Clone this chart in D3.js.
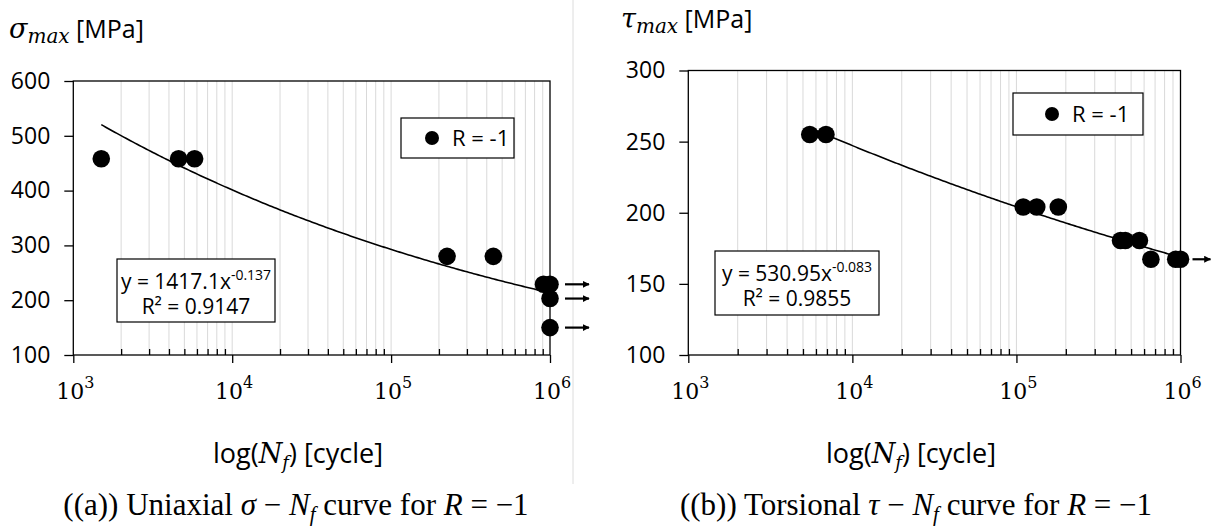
<!doctype html>
<html lang="en">
  <head>
    <meta charset="utf-8">
    <title>S-N curves</title>
    <style>
      body{margin:0;background:#fff;}
      svg{display:block;}
      .sans{font-family:"Open Sans", "Noto Sans", sans-serif;}
      .serif{font-family:"Liberation Serif", "DejaVu Serif", serif;}
    </style>
  </head>
  <body>
    <div class="holder"></div>
    <script src="https://cdn.jsdelivr.net/npm/d3@7"></script>
    <script>

      // ---- data ----
      var xTicks = [1e3, 1e4, 1e5, 1e6];
      var xTickExp = ["3", "4", "5", "6"];

      // (a) uniaxial
      var sigmaN    = [1500, 4600, 5800, 225000, 440000, 910000, 1000000, 1000000, 1000000];
      var sigmaMax  = [458, 458, 458, 280, 280, 229, 229, 203, 150];
      var sigmaRunout = [229, 203, 150];
      var sigmaTicks = [100, 200, 300, 400, 500, 600];
      var sigmaFit = [1417.1, -0.137];
      var sigmaR2 = "0.9147";

      // (b) torsional
      var tauN    = [5500, 6900, 110000, 133000, 180000, 431000, 461000, 562000, 660000, 935000, 1000000];
      var tauMax  = [255, 255, 204, 204, 204, 180.5, 180.5, 180.5, 167.3, 167.3, 167.3];
      var tauRunout = [167.3];
      var tauTicks = [100, 150, 200, 250, 300];
      var tauFit = [530.95, -0.083];
      var tauR2 = "0.9855";

      var svg = d3.select(".holder").append("svg")
          .attr("width", 1219).attr("height", 526);

      // arrow head
      svg.append("defs").append("marker")
          .attr("id", "head").attr("viewBox", "0 0 10 10")
          .attr("refX", 9).attr("refY", 5)
          .attr("markerWidth", 3.2).attr("markerHeight", 3.2)
          .attr("orient", "auto")
        .append("path").attr("d", "M0,0L10,5L0,10z").attr("fill", "#000");

      // divider between the two panels
      svg.append("line").attr("x1", 573).attr("x2", 573).attr("y1", 0).attr("y2", 484)
          .attr("stroke", "#dcdcdc").attr("stroke-width", 1);

      function panel(o) {
        var x = d3.scaleLog().domain([1e3, 1e6]).range([o.x0, o.x1]);
        var y = d3.scaleLinear().domain(o.yDomain).range([o.yBot, o.yTop]);
        var g = svg.append("g");

        // vertical gridlines (minor + inner decades)
        var grid = [];
        for (var d = 3; d < 6; d++) {
          for (var k = 1; k < 10; k++) {
            var v = k * Math.pow(10, d);
            if (v > 1e3) grid.push(v);
          }
        }
        g.selectAll(".grid").data(grid).enter().append("line")
            .attr("x1", x).attr("x2", x)
            .attr("y1", o.yTop).attr("y2", o.yBot)
            .attr("stroke", "#d9d9d9").attr("stroke-width", 1);

        // plot border
        g.append("rect").attr("x", o.x0).attr("y", o.yTop)
            .attr("width", o.x1 - o.x0).attr("height", o.yBot - o.yTop)
            .attr("fill", "none").attr("stroke", "#000").attr("stroke-width", 1.3);

        // minor ticks pointing up, majors pointing down
        var minors = grid.filter(function(v){ return xTicks.indexOf(v) < 0; });
        g.append("g").attr("transform", "translate(0," + o.yBot + ")")
            .call(d3.axisBottom(x).tickValues(minors).tickSize(-6).tickSizeOuter(0).tickFormat(""))
            .call(function(s){ s.select(".domain").remove(); s.selectAll("line").attr("stroke-width", 1.3); });
        g.append("g").attr("transform", "translate(0," + o.yBot + ")")
            .call(d3.axisBottom(x).tickValues(xTicks).tickSize(8).tickSizeOuter(0).tickFormat(""))
            .call(function(s){ s.select(".domain").remove(); s.selectAll("line").attr("stroke-width", 1.3); });

        // x tick labels 10^n
        var lab = g.selectAll(".xl").data(xTicks).enter().append("text")
            .attr("x", function(d){ return x(d) + 2; }).attr("y", 399)
            .attr("text-anchor", "middle")
            .style("font-family", "DejaVu Serif, serif").style("font-size", "22px");
        lab.append("tspan").text("10");
        lab.append("tspan").attr("dy", -11).style("font-size", "16px")
            .text(function(d, i){ return xTickExp[i]; });

        // y axis
        g.append("g").attr("transform", "translate(" + o.x0 + ",0)")
            .call(d3.axisLeft(y).tickValues(o.yTicks).tickSize(9).tickSizeOuter(0).tickPadding(14))
            .call(function(s){
              s.select(".domain").remove();
              s.selectAll("line").attr("stroke-width", 1.3);
              s.selectAll("text").attr("class", "sans").style("font-size", "23px").attr("fill", "#000");
            });

        // trendline from the fitted power law
        var fitN = d3.range(0, 201).map(function(i){
          var lo = Math.log10(d3.min(o.n)), hi = 6;
          return Math.pow(10, lo + (hi - lo) * i / 200);
        });
        g.append("path")
            .datum(fitN)
            .attr("fill", "none").attr("stroke", "#000").attr("stroke-width", 1.6)
            .attr("d", d3.line()
              .x(function(d){ return x(d); })
              .y(function(d){ return y(o.fit[0] * Math.pow(d, o.fit[1])); }));

        // data points
        g.selectAll(".pt").data(o.n).enter().append("circle")
            .attr("cx", function(d){ return x(d); })
            .attr("cy", function(d, i){ return y(o.v[i]); })
            .attr("r", 8.8).attr("fill", "#000");

        // run-out arrows
        g.selectAll(".ro").data(o.runout).enter().append("line")
            .attr("x1", x(1e6) + o.arrow[0]).attr("x2", x(1e6) + o.arrow[1])
            .attr("y1", y).attr("y2", y)
            .attr("stroke", "#000").attr("stroke-width", 2.2)
            .attr("marker-end", "url(#head)");

        // legend
        var L = o.legend;
        g.append("rect").attr("x", L[0]).attr("y", L[1]).attr("width", L[2]).attr("height", L[3])
            .attr("fill", "#fff").attr("stroke", "#000").attr("stroke-width", 1.2);
        g.append("circle").attr("cx", L[0] + L[4]).attr("cy", L[1] + L[3] / 2).attr("r", 7).attr("fill", "#000");
        g.append("text").attr("class", "sans").attr("x", L[0] + L[4] + 20).attr("y", L[1] + L[3] / 2 + 8)
            .style("font-size", "22px").text("R = -1");

        // equation box
        var E = o.eqBox;
        g.append("rect").attr("x", E[0]).attr("y", E[1]).attr("width", E[2]).attr("height", E[3])
            .attr("fill", "#fff").attr("stroke", "#000").attr("stroke-width", 1.2);
        var cx = E[0] + E[2] / 2;
        var t1 = g.append("text").attr("class", "sans").attr("x", cx).attr("y", E[1] + 30)
            .attr("text-anchor", "middle").style("font-size", "21px");
        t1.append("tspan").text("y = " + o.fit[0] + "x");
        t1.append("tspan").attr("dy", -9).style("font-size", "14px").text(String(o.fit[1]));
        var t2 = g.append("text").attr("class", "sans").attr("x", cx).attr("y", E[1] + 55)
            .attr("text-anchor", "middle").style("font-size", "21px");
        t2.append("tspan").text("R² = " + o.r2);

        // y title
        var yt = g.append("text").attr("x", o.title[0]).attr("y", o.title[1]);
        yt.append("tspan").style("font-family", "DejaVu Serif, serif").style("font-style", "italic")
            .style("font-size", "27px").text(o.sym);
        yt.append("tspan").attr("dy", 5).style("font-family", "DejaVu Serif, serif").style("font-style", "italic")
            .style("font-size", "20px").text("max");
        yt.append("tspan").attr("dy", -5).attr("class", "sans").style("font-size", "25px").text(" [MPa]");

        // x title
        var xt = g.append("text").attr("x", o.xt).attr("y", 463)
            .attr("text-anchor", "middle").attr("class", "sans").style("font-size", "27px");
        xt.append("tspan").text("log(");
        xt.append("tspan").style("font-family", "DejaVu Serif, serif").style("font-style", "italic").text("N");
        xt.append("tspan").attr("dy", 6).style("font-family", "DejaVu Serif, serif").style("font-style", "italic")
            .style("font-size", "18px").text("f");
        xt.append("tspan").attr("dy", -6).text(") [cycle]");

        // caption
        var cp = svg.append("text").attr("class", "serif").attr("x", o.cap[0]).attr("y", 515)
            .attr("text-anchor", "middle").style("font-size", "31px");
        cp.append("tspan").text(o.cap[1] + " ");
        cp.append("tspan").style("font-style", "italic").text(o.sym);
        cp.append("tspan").text(" − ");
        cp.append("tspan").style("font-style", "italic").text("N");
        cp.append("tspan").attr("dy", 6).style("font-style", "italic").style("font-size", "21px").text("f");
        cp.append("tspan").attr("dy", -6).text(" curve for ");
        cp.append("tspan").style("font-style", "italic").text("R");
        cp.append("tspan").text(" = −1");
      }

      panel({
        x0: 73.3, x1: 550, yTop: 81, yBot: 355, yDomain: [100, 600], yTicks: sigmaTicks,
        n: sigmaN, v: sigmaMax, runout: sigmaRunout, fit: sigmaFit, r2: sigmaR2,
        arrow: [15, 39], legend: [401, 118, 113, 40, 31], eqBox: [117, 259, 158, 63],
        title: [9, 38], sym: "σ", cap: [296, "((a)) Uniaxial"], xt: 298
      });

      panel({
        x0: 688.3, x1: 1180.5, yTop: 70.5, yBot: 355, yDomain: [100, 300], yTicks: tauTicks,
        n: tauN, v: tauMax, runout: tauRunout, fit: tauFit, r2: tauR2,
        arrow: [12, 30], legend: [1013, 93, 130, 42, 39], eqBox: [715, 251, 164, 64],
        title: [621, 28], sym: "τ", cap: [916, "((b)) Torsional"], xt: 911
      });

    </script>
  </body>
</html>
